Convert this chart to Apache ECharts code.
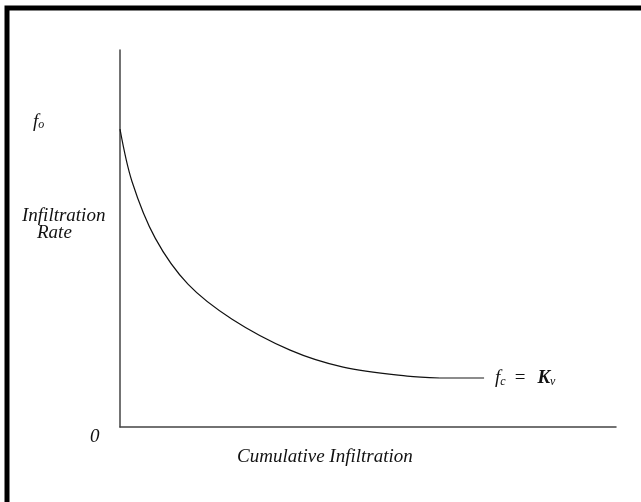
<!DOCTYPE html>
<html>
<head>
<meta charset="utf-8">
<script src="https://cdn.jsdelivr.net/npm/echarts@6/dist/echarts.min.js"></script>
<style>
    html, body { margin: 0; padding: 0; background: #fff; }
    #chart { width: 641px; height: 502px; }
</style>
</head>
<body>
<div id="chart"></div>
<script>
    // cumulative infiltration (x) and infiltration rate (y), arbitrary units 0..100
    var curveX = [0, 2.4, 7.1, 13.7, 22.6, 34.3, 45.0, 57.9, 64.5];
    var curveY = [79.0, 65.2, 50.1, 37.9, 28.6, 20.4, 15.9, 13.5, 13.0];
    // constant rate tail, fc = Kv
    var tailX = [64.5, 73.4];
    var tailY = [13.0, 13.0];

    var serif = '"Liberation Serif", "DejaVu Serif", serif';
    var txt = 'italic 19px ' + serif;

    var myChart = echarts.init(document.getElementById('chart'));

    var option = {
        animation: false,
        backgroundColor: '#fff',
        grid: {left: 120, top: 50, right: 25, bottom: 75},
        xAxis: {
            type: 'value', min: 0, max: 100,
            axisLine: {show: true, onZero: false, lineStyle: {color: '#444', width: 1.5}},
            axisTick: {show: false}, axisLabel: {show: false}, splitLine: {show: false}
        },
        yAxis: {
            type: 'value', min: 0, max: 100,
            axisLine: {show: true, onZero: false, lineStyle: {color: '#444', width: 1.5}},
            axisTick: {show: false}, axisLabel: {show: false}, splitLine: {show: false}
        },
        series: [
            {
                type: 'line',
                data: curveX.map(function (x, i) { return [x, curveY[i]]; }),
                smooth: 0.33,
                showSymbol: false,
                lineStyle: {color: '#111', width: 1.2}
            },
            {
                type: 'line',
                data: tailX.map(function (x, i) { return [x, tailY[i]]; }),
                showSymbol: false,
                lineStyle: {color: '#666', width: 1.5},
                endLabel: {
                    show: true,
                    distance: 11,
                    formatter: '{f|f}{s|c}{eq|=}{k|K}{s|v}',
                    rich: {
                        f: {fontFamily: serif, fontStyle: 'italic', fontSize: 19, color: '#111'},
                        s: {fontFamily: serif, fontStyle: 'italic', fontSize: 12, color: '#111', padding: [7, 0, 0, 0]},
                        eq: {fontFamily: serif, fontSize: 19, color: '#111', padding: [0, 12, 0, 9]},
                        k: {fontFamily: serif, fontStyle: 'italic', fontWeight: 'bold', fontSize: 19, color: '#111'}
                    }
                }
            }
        ],
        graphic: [
            // frame on top and left
            {type: 'polyline', shape: {points: [[7, 502], [7, 8], [641, 8]]}, style: {stroke: '#000', lineWidth: 5, fill: null}},
            {
                type: 'text', left: 33, top: 112,
                style: {
                    text: '{f|f}{s|o}',
                    rich: {
                        f: {fontFamily: serif, fontStyle: 'italic', fontSize: 19, fill: '#111'},
                        s: {fontFamily: serif, fontStyle: 'italic', fontSize: 12, fill: '#111', padding: [7, 0, 0, 0]}
                    }
                }
            },
            {type: 'text', left: 22, top: 206, style: {text: 'Infiltration', font: txt, fill: '#111'}},
            {type: 'text', left: 37, top: 223, style: {text: 'Rate', font: txt, fill: '#111'}},
            {type: 'text', left: 90, top: 427, style: {text: '0', font: txt, fill: '#111'}},
            {type: 'text', left: 237, top: 447, style: {text: 'Cumulative Infiltration', font: txt, fill: '#111'}}
        ]
    };

    myChart.setOption(option);
</script>
</body>
</html>
